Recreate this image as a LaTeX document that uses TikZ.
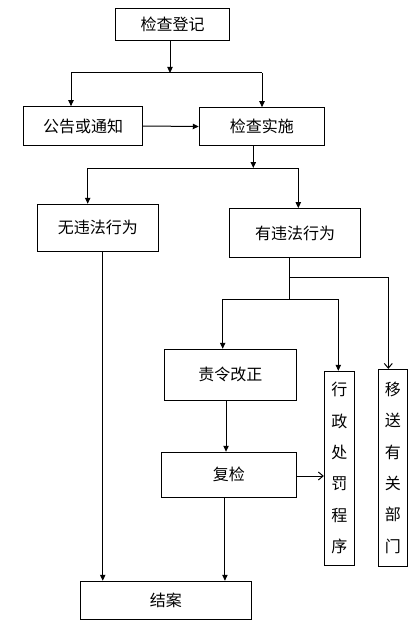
\documentclass[tikz,border=0pt]{standalone}
\usepackage{fontspec}
\newfontfamily\cjk{Noto Sans CJK SC}
\usetikzlibrary{arrows.meta}

\tikzset{
	box/.style={draw, inner sep=0pt, align=center, font=\cjk\fontsize{12}{23.5}\selectfont},
	arr/.style={-{Triangle[length=4.5pt,width=4pt]}},
	openarr/.style={-{Straight Barb[length=3.5pt,width=6pt]}}
}

\begin{document}
\begin{tikzpicture}[x=0.75pt, y=-0.75pt, line width=0.75pt]
	\useasboundingbox (0,0) rectangle (419,635);

	\node[box, minimum width=85.2pt, minimum height=24pt] (reg) at (172.5,24.3) {检查登记};
	\node[box, minimum width=89.6pt, minimum height=29pt] (notice) at (83,126) {公告或通知};
	\node[box, minimum width=93.8pt, minimum height=28.2pt] (exec) at (261.8,126.5) {检查实施};
	\node[box, minimum width=90.8pt, minimum height=35.3pt] (nolaw) at (97.8,227.8) {无违法行为};
	\node[box, minimum width=98pt, minimum height=36.5pt] (law) at (295,233) {有违法行为};
	\node[box, minimum width=99pt, minimum height=38.3pt] (order) at (230.3,374.8) {责令改正};
	\node[box, minimum width=101.3pt, minimum height=33.8pt] (recheck) at (228.8,474.8) {复检};
	\node[box, minimum width=22.5pt, minimum height=145.3pt] (penalty) at (339.3,468.2) {行\\政\\处\\罚\\程\\序};
	\node[box, minimum width=21.8pt, minimum height=147.5pt] (transfer) at (392.8,467.7) {移\\送\\有\\关\\部\\门};
	\node[box, minimum width=128.3pt, minimum height=28.5pt] (close) at (165.8,600.3) {结案};

	% branch points
	\coordinate (j1) at (170,73);
	\coordinate (j1l) at (71,73);
	\coordinate (j1r) at (262,73);
	\coordinate (j2) at (253.3,168);
	\coordinate (j2l) at (87.7,168);
	\coordinate (j2r) at (298.3,168);
	\coordinate (j3) at (289.3,277);
	\coordinate (j3r) at (388.3,277);
	\coordinate (j4) at (289.3,299);
	\coordinate (j4l) at (222.7,299);
	\coordinate (j4r) at (338.3,299);

	\draw[arr] (reg.south -| j1) -- (j1);
	\draw (j1l) -- (j1r);
	\draw[arr] (j1l) -- (j1l |- notice.north);
	\draw[arr] (j1r) -- (j1r |- exec.north);
	\draw[arr] (notice.east) -- (exec.west);

	\draw[arr] (exec.south -| j2) -- (j2);
	\draw (j2l) -- (j2r);
	\draw[arr] (j2l) -- (j2l |- nolaw.north);
	\draw[arr] (j2r) -- (j2r |- law.north);

	\draw[arr] ([xshift=3.7pt]nolaw.south) -- ([xshift=3.7pt]nolaw.south |- close.north);

	\draw (law.south -| j3) -- (j4);
	\draw (j3) -- (j3r);
	\draw[openarr] (j3r) -- (j3r |- transfer.north);
	\draw (j4l) -- (j4r);
	\draw[arr] (j4l) -- (j4l |- order.north);
	\draw[arr] (j4r) -- (j4r |- penalty.north);

	\draw[arr] ([xshift=-3.2pt]order.south) -- ([xshift=-3.2pt]order.south |- recheck.north);
	\draw[openarr] ([yshift=-0.9pt]recheck.east) -- ([yshift=-0.9pt]recheck.east -| penalty.west);
	\draw[arr] ([xshift=-2.9pt]recheck.south) -- ([xshift=-2.9pt]recheck.south |- close.north);
\end{tikzpicture}
\end{document}
